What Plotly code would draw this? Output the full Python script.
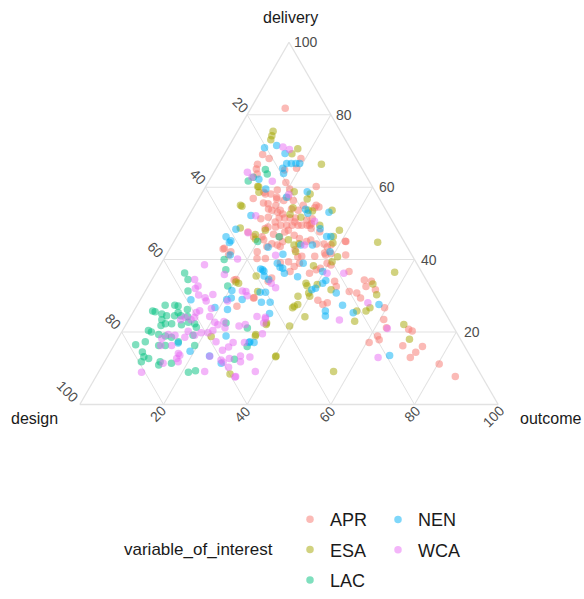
import math
import plotly.graph_objects as go

# ---------------- data: (delivery, outcome) in %, design = 100 - delivery - outcome
groups = ["APR", "ESA", "LAC", "NEN", "WCA"]
colors = {"APR": "#F8766D", "ESA": "#A3A500", "LAC": "#00BF7D", "NEN": "#00B0F6", "WCA": "#E76BF3"}

apr_delivery = [81.8, 69.0, 67.9, 67.9, 65.2, 66.3, 65.0, 63.6, 64.7, 61.3, 59.2, 60.2, 59.5, 56.7, 58.1, 56.9, 55.4,
                54.9, 53.6, 53.1, 52.6, 54.3, 54.5, 51.3, 51.7, 51.5, 51.5, 51.5, 51.5, 51.3, 49.9,
                49.5, 49.5, 49.5, 49.5, 49.5, 49.5, 49.0, 49.0, 47.6, 46.3, 47.0, 46.3, 47.6, 46.7, 45.8,
                45.1, 42.9, 41.3, 45.5, 44.4, 44.0, 44.9, 45.4, 44.3, 44.3, 43.5, 41.3, 41.7, 41.3,
                40.3, 40.3, 39.4, 40.8, 39.0, 38.1, 36.7, 36.2, 37.6, 39.0, 38.5, 36.7,
                34.0, 32.6, 28.8, 28.1, 27.6, 31.2, 30.8, 29.4, 32.6, 34.4, 34.0, 31.7, 26.7,
                23.5, 21.2, 20.8, 20.3, 16.2, 13.0, 14.4, 16.0, 18.9, 17.9, 17.1, 11.2, 7.7,
                34.4, 34.0, 34.9, 29.4, 27.1, 34.5, 29.5, 42.2,
                58.6, 58.1, 57.2, 56.3, 56.3, 54.0, 53.6, 54.0, 55.0, 55.0, 50.4, 50.4, 50.9, 48.6,
                48.6, 47.7, 44.1, 41.8, 45.0, 45.0, 46.3, 43.6, 43.6, 42.7, 40.9, 40.9, 37.2, 39.1,
                42.2, 43.1, 55.6, 57.2, 53.6, 49.5, 48.1]
apr_outcome = [8.2, 9.2, 11.3, 18.9, 19.2, 9.3, 9.7, 10.6, 16.6, 18.6, 17.6, 26.4, 20.4, 18.7, 15.3, 13.0, 17.3,
               19.4, 19.1, 20.7, 22.2, 29.0, 29.9, 17.6, 19.2, 21.9, 23.2, 24.5, 25.8, 29.9, 30.4,
               23.3, 24.7, 26.0, 27.4, 28.3, 29.6, 20.5, 22.3, 16.4, 18.4, 22.8, 24.6, 25.2, 27.9, 29.6,
               40.9, 12.8, 14.9, 21.2, 23.7, 25.2, 26.0, 32.5, 34.4, 36.2, 37.4, 38.1, 39.2, 42.9,
               22.2, 24.2, 30.2, 31.7, 33.0, 32.2, 31.9, 36.8, 38.7, 39.6, 40.8, 46.0,
               43.9, 45.0, 42.5, 45.1, 44.3, 48.8, 50.8, 52.4, 52.1, 50.8, 52.7, 54.8, 59.5,
               60.9, 62.7, 68.2, 69.3, 69.1, 72.5, 73.1, 73.9, 61.7, 62.6, 60.6, 80.3, 85.9,
               19.7, 28.0, 28.4, 26.8, 24.0, 20.1, 26.9, 15.0,
               14.7, 16.6, 18.5, 20.6, 22.9, 18.1, 21.1, 23.6, 25.9, 29.0, 21.5, 26.2, 28.8, 31.0,
               20.0, 33.5, 38.0, 37.6, 41.1, 31.7, 20.4, 22.9, 26.1, 30.1, 32.6, 35.7, 37.9, 28.4,
               21.3, 13.0, 16.1, 21.2, 25.4, 30.2, 25.8]

esa_delivery = [75.4, 74.2, 73.1, 70.6, 69.2, 66.3, 60.2, 58.7, 56.7, 54.7, 58.6,
                54.3, 53.4, 53.6, 51.7, 49.5, 48.7, 46.9, 48.1, 48.1, 46.4, 44.8, 45.6, 45.5, 44.0, 44.4,
                44.6, 40.8, 42.2, 38.3, 39.4, 36.5, 33.1, 31.7, 30.8, 33.3, 30.3, 26.7, 25.8, 25.8, 23.0,
                22.1, 18.0, 9.1, 13.2, 21.7, 24.2, 26.7, 27.1, 27.6, 29.9, 29.9, 33.5, 32.8,
                33.5, 35.5, 31.2, 22.1, 18.9,
                18.8, 8.4, 19.3, 22.5, 13.4, 33.8,
                55.0, 60.1, 52.5, 58.1, 53.6]
esa_outcome = [8.5, 8.8, 9.1, 16.8, 16.1, 24.6, 12.4, 21.9, 26.0, 11.4, 13.5,
               23.8, 28.9, 33.5, 27.0, 32.6, 14.0, 18.5, 20.3, 38.0, 37.4, 48.8, 19.2, 27.1, 29.2, 30.2,
               38.2, 41.2, 30.5, 36.7, 40.6, 57.0, 40.2, 44.2, 39.3, 53.4, 55.8, 56.0, 55.5, 53.3, 54.2,
               66.4, 69.8, 56.1, 40.2, 39.3, 41.7, 37.5, 37.7, 38.3, 37.2, 40.0, 37.3, 37.9,
               21.2, 24.4, 26.9, 33.5, 32.5,
               22.0, 31.7, 32.4, 33.4, 40.2, 20.4,
               10.9, 12.7, 24.0, 26.0, 27.8]

lac_delivery = [36.3, 34.5, 37.2, 40.0, 31.3, 32.7, 27.4, 27.4, 25.6, 25.8, 27.2, 26.2, 24.5, 24.3, 24.5, 24.5,
                23.4, 21.8, 22.3, 22.3, 22.0, 22.7, 22.3, 21.3, 20.4, 20.0, 19.3, 18.9, 18.6, 17.3, 19.1,
                16.3, 16.3, 16.3, 17.3, 16.5, 14.5, 13.2, 12.7, 11.8, 11.8, 10.9, 11.4, 8.9, 9.3, 22.5,
                21.1, 12.5, 25.4, 25.0,
                64.9, 62.7, 61.7, 63.6, 46.3, 45.0, 16.0]
lac_outcome = [6.9, 8.6, 16.3, 14.5, 10.2, 19.0, 9.0, 6.7, 5.2, 4.5, 9.9, 12.6, 11.9, 13.6, 10.4, 8.5,
               7.9, 8.5, 9.3, 10.8, 13.3, 14.6, 16.3, 17.2, 6.2, 7.1, 9.2, 11.0, 12.6, 14.9, 17.5,
               19.3, 10.7, 12.3, 7.0, 5.1, 7.7, 8.7, 10.1, 8.8, 13.3, 13.4, 16.2, 21.5, 23.0, 23.7,
               29.5, 30.7, 10.8, 7.1,
               11.9, 10.1, 9.4, 13.0, 24.5, 20.0, 32.0]

nen_delivery = [70.9, 71.5, 69.3, 66.5, 66.5, 66.5, 66.5, 65.2, 63.8, 62.2, 59.5, 58.7, 57.2, 53.9, 53.1,
                52.2, 52.8, 48.5, 48.4, 46.4, 46.4, 46.3, 44.7, 43.4, 44.0, 44.0, 42.2, 41.3, 41.5, 39.0,
                39.0, 37.9, 36.2, 37.6, 35.3, 36.7, 34.2, 33.5, 32.1, 31.7, 30.8, 27.6, 25.3, 13.5,
                31.5, 29.0, 37.2, 35.5, 31.0, 31.0, 28.2, 28.2, 29.0, 29.4, 25.1,
                25.8, 24.4, 27.4, 11.4, 17.1,
                28.9, 26.8, 18.9, 17.0, 14.7, 13.4, 26.2, 17.3, 17.1, 37.4, 36.8, 34.5, 45.2]
nen_outcome = [8.7, 11.3, 14.4, 16.2, 17.3, 18.4, 19.3, 15.9, 16.8, 11.7, 14.7, 25.0, 20.8, 27.0, 33.0,
               14.8, 28.1, 33.2, 13.1, 35.8, 36.8, 11.8, 13.4, 23.3, 30.8, 33.6, 38.7, 15.3, 27.8, 33.9,
               27.7, 28.9, 30.8, 29.7, 34.4, 39.7, 41.7, 41.3, 40.3, 39.6, 45.9, 57.7, 52.7, 67.3,
               20.6, 24.3, 25.1, 26.3, 28.9, 27.6, 29.3, 31.4, 20.6, 21.5, 32.8,
               45.8, 46.5, 49.1, 28.1, 31.9,
               12.1, 18.9, 25.5, 15.0, 19.0, 24.3, 22.2, 32.0, 33.1, 24.5, 25.6, 27.9, 13.5]

wca_delivery = [71.1, 70.4, 64.1, 62.7, 61.6, 52.1, 50.6, 47.4, 44.0, 40.2, 41.2, 36.2, 36.2, 28.1, 23.3, 21.0, 13.0,
                31.2, 32.2, 33.5, 23.7, 22.1, 21.7, 58.0,
                7.6, 17.1, 17.1, 21.2, 13.3, 11.7, 10.3,
                38.6, 34.5, 32.7, 32.0, 30.2, 29.5, 30.4, 28.6, 25.9, 25.4, 24.1, 23.4, 24.1, 23.4, 24.3,
                26.5, 22.0, 22.9, 22.7, 20.4, 19.8, 19.8, 19.1, 20.2, 18.6, 19.1, 19.3, 18.2, 16.3, 16.3,
                14.1, 13.6, 12.7, 11.8, 11.4, 8.9, 9.1, 17.3, 15.0, 15.9, 13.4, 13.1, 11.8, 12.7, 12.3,
                7.7, 9.1, 24.3, 22.5, 24.1, 19.5, 31.3, 30.0, 35.9, 28.6]
wca_outcome = [13.0, 14.9, 8.0, 9.8, 15.2, 16.0, 30.8, 16.5, 31.7, 17.6, 26.2, 41.0, 45.0, 54.8, 50.4, 63.0, 64.8,
               24.1, 30.7, 29.0, 32.5, 28.5, 27.2, 21.0,
               33.3, 28.1, 30.8, 24.1, 24.4, 28.4, 30.4,
               10.5, 10.2, 11.9, 11.6, 13.3, 15.2, 16.6, 15.9, 15.7, 15.1, 15.4, 14.9, 13.1, 12.4, 18.9,
               18.2, 22.0, 23.0, 20.9, 21.6, 20.7, 19.1, 17.9, 15.8, 15.8, 13.2, 11.5, 10.5, 11.2, 13.8,
               16.5, 17.1, 16.8, 17.6, 14.2, 10.3, 25.3, 23.9, 26.6, 27.6, 31.7, 34.1, 32.5, 29.4, 27.6,
               33.4, 37.4, 30.2, 32.7, 32.3, 33.9, 23.2, 25.0, 16.6, 21.0]

series = {
    "APR": (apr_delivery, apr_outcome),
    "ESA": (esa_delivery, esa_outcome),
    "LAC": (lac_delivery, lac_outcome),
    "NEN": (nen_delivery, nen_outcome),
    "WCA": (wca_delivery, wca_outcome),
}
legend_of = {"APR": "legend", "ESA": "legend", "LAC": "legend", "NEN": "legend2", "WCA": "legend2"}

tick_values = [20, 40, 60, 80, 100]

# ---------------- layout geometry (pixels)
W, H = 584, 599
TRI_LEFT, TRI_RIGHT, TRI_BOTTOM = 77, 501, 410
TRI_W = TRI_RIGHT - TRI_LEFT
TRI_H = TRI_W * math.sqrt(3) / 2
TRI_TOP = TRI_BOTTOM - TRI_H

FONT = "Liberation Sans, Arial, sans-serif"


def tern_to_px(delivery, outcome):
    x = TRI_LEFT + (outcome + delivery / 2) / 100 * TRI_W
    y = TRI_BOTTOM - delivery / 100 * TRI_H
    return x, y


def paper(x, y):
    return x / W, 1 - y / H


fig = go.Figure()
for g in groups:
    d, o = series[g]
    fig.add_trace(go.Scatterternary(
        a=d, c=o, mode="markers", name=g,
        marker=dict(color=colors[g], size=7.5, opacity=0.5, line=dict(width=0)),
        legend=legend_of[g], legendgroup=g, hoverinfo="skip",
    ))

axis_common = dict(
    showticklabels=False, ticks="", showgrid=True, gridcolor="#e2e2e2", gridwidth=1.3,
    linecolor="#e2e2e2", linewidth=1.3, dtick=20, tick0=0, min=0, title=dict(text=""),
    layer="below traces",
)

annotations = []
lab_font = dict(family=FONT, size=14, color="#4d4d4d")
char_w = 8.0
for v in tick_values:
    # right edge: delivery labels
    x, y = tern_to_px(v, 100 - v)
    px_, py_ = paper(x + 3, y)
    annotations.append(dict(x=px_, y=py_, xref="paper", yref="paper", text=str(v), showarrow=False,
                            xanchor="left", yanchor="middle", font=lab_font))
    # left edge: design labels (design = v -> delivery = 100 - v, outcome = 0)
    x, y = tern_to_px(100 - v, 0)
    half = len(str(v)) * char_w / 2 * 0.707
    px_, py_ = paper(x - 0.3 - half, y - 4.5 - half)
    annotations.append(dict(x=px_, y=py_, xref="paper", yref="paper", text=str(v), showarrow=False,
                            xanchor="center", yanchor="middle", textangle=45, font=lab_font))
    # bottom edge: outcome labels
    x, y = tern_to_px(0, v)
    px_, py_ = paper(x + 1.5 - half, y + 3.6 + half)
    annotations.append(dict(x=px_, y=py_, xref="paper", yref="paper", text=str(v), showarrow=False,
                            xanchor="center", yanchor="middle", textangle=-45, font=lab_font))

title_font = dict(family=FONT, size=16, color="#1a1a1a")
for txt, (x, y) in [("delivery", (290, 18)), ("design", (34, 424)), ("outcome", (550, 424))]:
    px_, py_ = paper(x, y)
    annotations.append(dict(x=px_, y=py_, xref="paper", yref="paper", text=txt, showarrow=False,
                            xanchor="center", yanchor="middle", font=title_font))

px_, py_ = paper(198, 557)
annotations.append(dict(x=px_, y=py_, xref="paper", yref="paper", text="variable_of_interest",
                        showarrow=False, xanchor="center", yanchor="middle",
                        font=dict(family=FONT, size=17, color="#1a1a1a")))

leg_common = dict(xanchor="left", yanchor="top", font=dict(family=FONT, size=18, color="#1a1a1a"),
                  bgcolor="rgba(0,0,0,0)", traceorder="grouped", tracegroupgap=4,
                  itemsizing="trace", orientation="v")

fig.update_layout(
    width=W, height=H, autosize=False,
    margin=dict(l=0, r=0, t=0, b=0),
    paper_bgcolor="white", plot_bgcolor="white",
    ternary=dict(
        sum=100, bgcolor="white",
        domain=dict(x=[TRI_LEFT / W, TRI_RIGHT / W], y=[1 - TRI_BOTTOM / H, 1 - TRI_TOP / H]),
        aaxis=axis_common, baxis=axis_common, caxis=axis_common,
    ),
    showlegend=True,
    legend=dict(x=290 / W, y=1 - 508 / H, **leg_common),
    legend2=dict(x=378 / W, y=1 - 508 / H, **leg_common),
    annotations=annotations,
)

fig.write_html("out.html")
